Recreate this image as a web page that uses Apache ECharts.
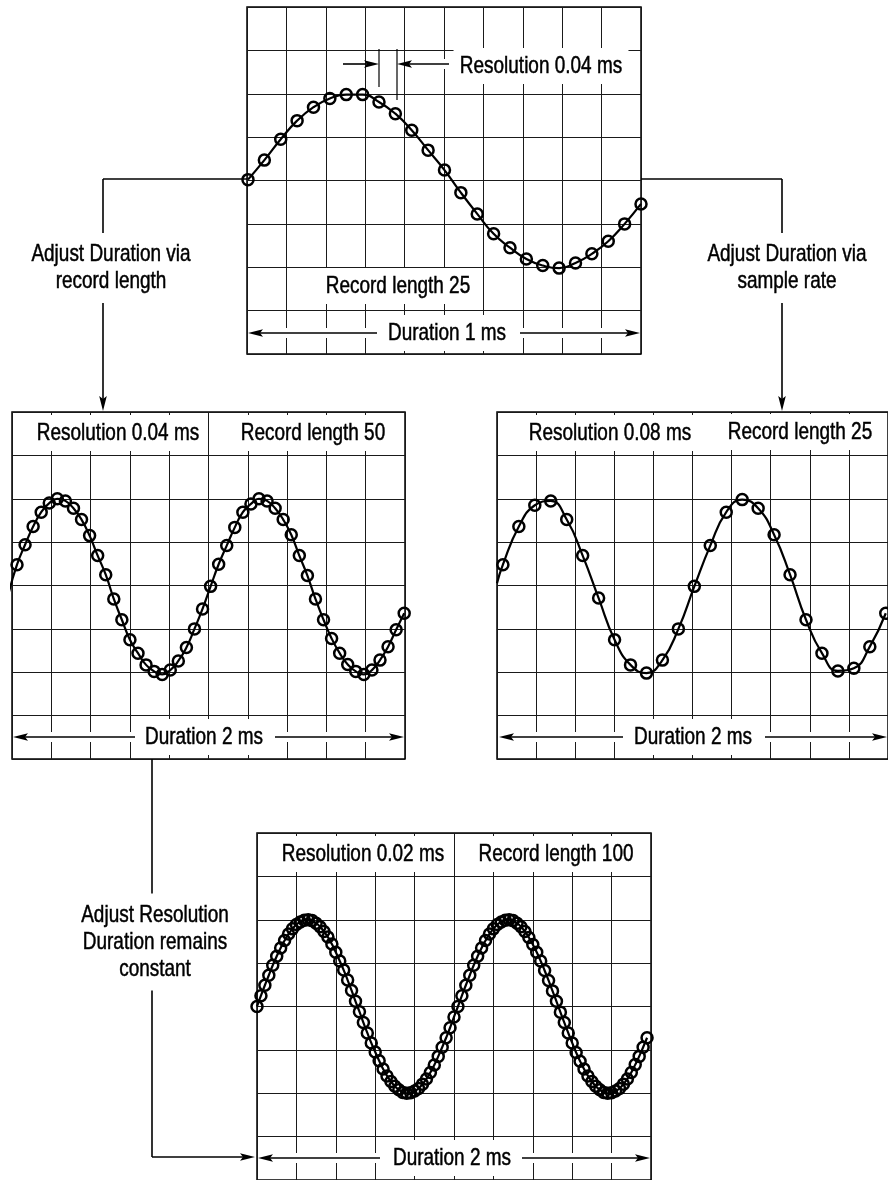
<!DOCTYPE html>
<html>
<head>
<meta charset="utf-8">
<script src="https://cdn.jsdelivr.net/npm/echarts@6/dist/echarts.min.js"></script>
<style>
html, body { margin: 0; padding: 0; background: #fff; }
#chartmain { width: 888px; height: 1180px; }
</style>
</head>
<body>
<div id="chartmain"></div>
<script>
// sample values, in screen divisions above the centre line
var topValues = [0.02, 0.47, 0.95, 1.38, 1.69, 1.89, 1.98, 1.98, 1.81, 1.54, 1.16, 0.70, 0.24,
    -0.28, -0.77, -1.23, -1.55, -1.81, -1.96, -2.02, -1.90, -1.69, -1.40, -1.00, -0.54];

var leftValues = [-0.15, 0.48, 0.94, 1.36, 1.69, 1.90, 2.00, 1.95, 1.78, 1.52, 1.15, 0.69, 0.25,
    -0.31, -0.79, -1.25, -1.56, -1.83, -1.98, -2.05, -1.95, -1.74, -1.43, -1.00, -0.54, -0.02,
    0.49, 0.92, 1.34, 1.69, 1.88, 2.00, 1.95, 1.78, 1.52, 1.17, 0.69, 0.23, -0.31, -0.79,
    -1.22, -1.56, -1.82, -1.98, -2.05, -1.95, -1.72, -1.41, -1.02, -0.64];

var rightValues = [0.48, 1.36, 1.85, 1.95, 1.52, 0.69, -0.29, -1.25, -1.83, -2.02, -1.72, -1.00,
    -0.02, 0.92, 1.69, 1.98, 1.78, 1.17, 0.25, -0.79, -1.56, -1.97, -1.91, -1.41, -0.64];
var rightEdgeValue = 0.05;

var bottomValues = [0, 0.25, 0.49, 0.72, 0.95, 1.16, 1.35, 1.52, 1.67, 1.79,
    1.89, 1.95, 1.99, 2.00, 1.98, 1.92, 1.84, 1.73, 1.60, 1.44,
    1.25, 1.05, 0.84, 0.61, 0.37, 0.12, -0.12, -0.37, -0.61, -0.84,
    -1.05, -1.25, -1.44, -1.60, -1.73, -1.84, -1.92, -1.98, -2.00, -1.99,
    -1.95, -1.89, -1.79, -1.67, -1.52, -1.35, -1.15, -0.94, -0.72, -0.49,
    -0.24, 0.00, 0.25, 0.49, 0.72, 0.95, 1.16, 1.35, 1.52, 1.67,
    1.79, 1.89, 1.95, 1.99, 2.00, 1.98, 1.92, 1.84, 1.73, 1.59,
    1.43, 1.25, 1.05, 0.83, 0.60, 0.36, 0.12, -0.13, -0.37, -0.61,
    -0.84, -1.06, -1.26, -1.44, -1.60, -1.73, -1.84, -1.92, -1.98, -2.00,
    -1.99, -1.95, -1.89, -1.79, -1.67, -1.52, -1.34, -1.15, -0.94, -0.72];

var labels = [
    ['Resolution 0.04 ms', 541, 66], ['Record length 25', 398, 286], ['Duration 1 ms', 447, 333],
    ['Resolution 0.04 ms', 118, 433], ['Record length 50', 313, 433], ['Duration 2 ms', 204, 737],
    ['Resolution 0.08 ms', 610, 433], ['Record length 25', 800, 432], ['Duration 2 ms', 693, 737],
    ['Resolution 0.02 ms', 363, 854], ['Record length 100', 556, 854], ['Duration 2 ms', 452, 1158]
];
var captions = [
    ['Adjust Duration via\nrecord length', 111, 268],
    ['Adjust Duration via\nsample rate', 787, 268],
    ['Adjust Resolution\nDuration remains\nconstant', 155, 942]
];

// no condensed face installed, so squeeze Liberation Sans horizontally
var FONT = '24px "Liberation Sans", Arial, sans-serif';
var SQUEEZE = 0.79;

var panels = [
    { box: [247, 7, 394, 347], values: topValues, xMin: -0.06, xMax: 24 },
    { box: [12, 412, 393, 347], values: leftValues, xMin: 0.38, xMax: 49.1 },
    { box: [497, 412, 393, 347], values: rightValues, xMin: -0.37, xMax: 24.14, edge: rightEdgeValue },
    { box: [257, 833, 394, 347], values: bottomValues, xMin: 0, xMax: 100 }
];

function arrow(from, to, halo) {
    var dx = to[0] - from[0], dy = to[1] - from[1];
    var len = Math.sqrt(dx * dx + dy * dy);
    var ux = dx / len, uy = dy / len, nx = -uy, ny = ux;
    var L = 15, W = 3.8;
    var back = [to[0] - ux * L, to[1] - uy * L];
    var els = [];
    if (halo) {
        els.push({ type: 'line', z: 10, shape: { x1: from[0], y1: from[1], x2: back[0], y2: back[1] },
            style: { stroke: '#fff', lineWidth: 10 } });
    }
    els.push({ type: 'line', z: 11, shape: { x1: from[0], y1: from[1], x2: back[0] + ux * 4, y2: back[1] + uy * 4 },
        style: { stroke: '#000', lineWidth: 1.6 } });
    els.push({ type: 'polygon', z: 11, shape: { points: [
        to,
        [back[0] + nx * W, back[1] + ny * W],
        [to[0] - ux * L * 0.8, to[1] - uy * L * 0.8],
        [back[0] - nx * W, back[1] - ny * W]
    ] }, style: { fill: '#000' } });
    return els;
}

function seg(a, b, w) {
    return { type: 'line', z: 11, shape: { x1: a[0], y1: a[1], x2: b[0], y2: b[1] },
        style: { stroke: '#000', lineWidth: w || 1.6 } };
}

var grids = [], xAxes = [], yAxes = [], series = [];
panels.forEach(function(p, i) {
    grids.push({ left: p.box[0], top: p.box[1], width: p.box[2], height: p.box[3],
        show: true, borderColor: '#000', borderWidth: 1.5, backgroundColor: 'transparent' });
    xAxes.push({ gridIndex: i, type: 'value', min: 0, max: 10, interval: 1,
        axisLine: { show: false }, axisTick: { show: false }, axisLabel: { show: false },
        splitLine: { show: true, lineStyle: { color: '#1a1a1a', width: 1 } } });
    xAxes.push({ gridIndex: i, type: 'value', min: p.xMin, max: p.xMax, show: false, splitLine: { show: false } });
    yAxes.push({ gridIndex: i, type: 'value', min: -4, max: 4, interval: 1,
        axisLine: { show: false }, axisTick: { show: false }, axisLabel: { show: false },
        splitLine: { show: true, lineStyle: { color: '#1a1a1a', width: 1 } } });
    var data = p.values.map(function(v, k) { return [k, v]; });
    if (p.edge !== undefined) {
        data.unshift({ value: [p.xMin, p.edge], symbol: 'none' });
    }
    series.push({
        type: 'line', xAxisIndex: 2 * i + 1, yAxisIndex: i, data: data,
        smooth: true, clip: true, symbol: 'circle', symbolSize: 11,
        lineStyle: { color: '#000', width: 2.2 },
        itemStyle: { color: 'rgba(0,0,0,0)', borderColor: '#000', borderWidth: 2.5 },
        emphasis: { disabled: true }, animation: false, z: 3
    });
});

var elements = [];
// arrows along the bottom row of each panel
[[[377, 333], [248, 333]], [[520, 333], [640, 333]],
 [[135, 737], [13, 737]], [[275, 737], [404, 737]],
 [[623, 737], [499, 737]], [[765, 737], [887, 737]],
 [[380, 1158], [258, 1158]], [[522, 1158], [650, 1158]],
 [[343, 64], [379, 64]], [[449, 64], [397, 64]]].forEach(function(a) {
    elements = elements.concat(arrow(a[0], a[1], true));
});
elements.push(seg([379, 49], [379, 87], 1.2));
elements.push(seg([397, 49], [397, 100], 1.2));
// connectors between panels
elements.push(seg([247, 179], [103, 179]));
elements = elements.concat(arrow([103, 179], [103, 411], false));
elements.push(seg([641, 179], [782, 179]));
elements = elements.concat(arrow([782, 179], [782, 411], false));
elements.push(seg([152, 759], [152, 1157]));
elements = elements.concat(arrow([152, 1157], [255, 1157], false));

function textEl(t, lineHeight, pad) {
    return { type: 'text', z: 20, x: t[1], y: t[2], scaleX: SQUEEZE, style: {
        text: t[0], font: FONT, fill: '#000', stroke: '#000', lineWidth: 0.5,
        align: 'center', verticalAlign: 'middle',
        lineHeight: lineHeight, backgroundColor: '#fff', padding: pad } };
}
labels.forEach(function(t) { elements.push(textEl(t, 26, [5, 8])); });
captions.forEach(function(t) { elements.push(textEl(t, 27, [8, 4])); });

var option = {
    backgroundColor: '#fff',
    animation: false,
    grid: grids,
    xAxis: xAxes,
    yAxis: yAxes,
    series: series,
    graphic: { elements: elements }
};
var myChart = echarts.init(document.getElementById('chartmain'));
myChart.setOption(option);
</script>
</body>
</html>
